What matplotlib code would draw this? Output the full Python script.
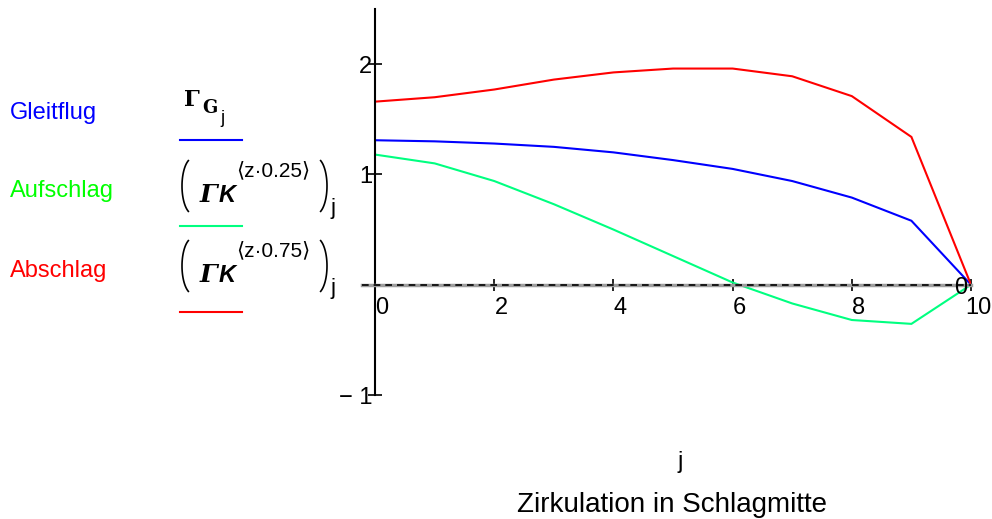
import matplotlib as mpl
mpl.use('Agg')
import numpy as np
import matplotlib.pyplot as plt
from matplotlib.lines import Line2D
from matplotlib.transforms import ScaledTranslation

plt.rcParams['font.family'] = ['Liberation Sans', 'DejaVu Sans']

# Zirkulation entlang der Spannweite, j = 0..10
j = list(range(11))
gleitflug = [1.31, 1.30, 1.28, 1.25, 1.20, 1.13, 1.05, 0.94, 0.79, 0.58, 0.0]
aufschlag = [1.18, 1.10, 0.94, 0.73, 0.50, 0.26, 0.02, -0.17, -0.32, -0.355, 0.0]
abschlag = [1.66, 1.70, 1.77, 1.86, 1.925, 1.96, 1.96, 1.89, 1.71, 1.34, 0.0]

xticks = [0, 2, 4, 6, 8, 10]
yticks = [-1, 1, 2]

names = ["Gleitflug", "Aufschlag", "Abschlag"]
name_colors = ["#0000ff", "#00ff00", "#ff0000"]
line_colors = ["#0000ff", "#00ff80", "#ff0000"]
superscripts = ["\u27e8z\u00b70.25\u27e9", "\u27e8z\u00b70.75\u27e9"]

W, H = 992, 519
fig = plt.figure(figsize=(W / 100, H / 100), dpi=100)
ax = fig.add_axes([362 / W, 1 - 395 / H, (971 - 362) / W, (395 - 9) / H])
ax.set_xlim(-0.22, 10)
ax.set_ylim(-1, 2.5)

for vals, c in zip([gleitflug, aufschlag, abschlag], line_colors):
    ax.plot(j, vals, color=c, lw=1.5, solid_joinstyle="miter")

# Achsen im Mathcad-Stil
ax.spines["top"].set_visible(False)
ax.spines["right"].set_visible(False)
ax.spines["left"].set_position(("data", 0))
ax.spines["left"].set_linewidth(1.5)
ax.spines["bottom"].set_position(("data", 0))
ax.spines["bottom"].set_color("0.62")
ax.spines["bottom"].set_linewidth(2.5)
ax.axhline(0, color="black", lw=1.2, ls=(0, (4, 3)), zorder=3)

ax.set_xticks(xticks)
ax.set_yticks(yticks)
ax.tick_params(axis="x", direction="inout", length=8, width=1.2, pad=5,
               labelsize=17, color="black")
ax.tick_params(axis="y", direction="inout", length=10, width=1.2, pad=-3,
               labelsize=17)
ax.set_yticklabels(["\u2212 1", "1", "2"])
off = ScaledTranslation(7 / 100, 0, fig.dpi_scale_trans)
for lbl in ax.get_xticklabels():
    lbl.set_transform(lbl.get_transform() + off)
ax.text(9.82, -0.03, "0", ha="center", va="center", fontsize=17)

fig.text(680 / W, 1 - 462 / H, "j", ha="center", va="center", fontsize=17)
fig.text(672 / W, 1 - 505 / H, "Zirkulation in Schlagmitte", ha="center",
         va="center", fontsize=20)


# Hilfsfunktionen fuer die Formel-Beschriftung (Pixelkoordinaten)
def ptext(x, y, s, **kw):
    fig.text(x / W, 1 - y / H, s, va="baseline", **kw)


def paren(xc, yc, left=True):
    rx, ry = 11, 28
    t = np.radians(np.linspace(115, 245, 40) if left else np.linspace(-65, 65, 40))
    px = xc + rx * np.cos(t)
    py = yc - ry * np.sin(t)
    fig.add_artist(Line2D(px / W, 1 - py / H, transform=fig.transFigure,
                          color="black", lw=1.2))


# Legende links
name_y = [113, 191, 271]
key_y = [140, 226, 312]
for i in range(3):
    fig.text(10 / W, 1 - name_y[i] / H, names[i], color=name_colors[i],
             fontsize=17, va="center")
    fig.add_artist(Line2D([180 / W, 242 / W], [1 - key_y[i] / H] * 2,
                          transform=fig.transFigure, color=line_colors[i], lw=1.5))

# Gamma_G_j
ptext(184, 106, "\u0393", family="DejaVu Serif", weight="bold", fontsize=16)
ptext(202, 113, "G", family="DejaVu Serif", weight="bold", fontsize=13)
ptext(220, 123, "j", fontsize=13)

# (Gamma K ^<z*0.xx>)_j
for k, dy in enumerate([0, 80]):
    paren(193, 186 + dy, left=True)
    ptext(200, 202 + dy, "\u0393", family="DejaVu Serif", weight="bold",
          style="italic", fontsize=18)
    ptext(219, 202 + dy, "K", weight="bold", style="italic", fontsize=17)
    ptext(236, 176 + dy, superscripts[k], fontsize=15)
    paren(316, 186 + dy, left=False)
    ptext(330, 214 + dy, "j", fontsize=16)

fig.savefig("out.png", dpi=100)
plt.close()
